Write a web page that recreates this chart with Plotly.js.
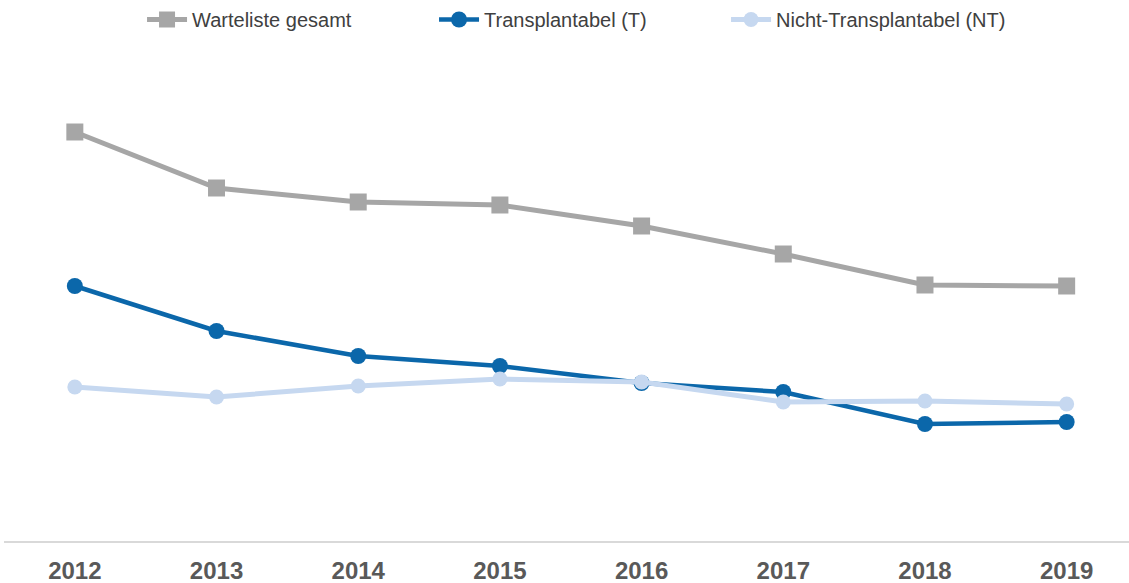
<!DOCTYPE html>
<html><head><meta charset="utf-8">
<script src="https://cdn.plot.ly/plotly-3.0.1.min.js"></script>
<style>html,body{margin:0;padding:0;background:#fff}#chart{width:1129px;height:583px}</style>
</head><body><div id="chart"></div>
<script>
var years = ['2012','2013','2014','2015','2016','2017','2018','2019'];
var gesamt = [409, 353, 339, 336, 315, 287, 256, 255];
var transplantabel = [255, 210, 185, 175, 158, 149, 117, 119];
var nichtTransplantabel = [154, 144, 155, 162, 159, 139, 140, 137];
var names = ['Warteliste gesamt', 'Transplantabel (T)', 'Nicht-Transplantabel (NT)'];

var traces = [
  {x: years, y: gesamt, name: names[0], type: 'scatter', mode: 'lines+markers',
   line: {color: '#a6a6a6', width: 5}, marker: {symbol: 'square', size: 17, color: '#a6a6a6'}},
  {x: years, y: transplantabel, name: names[1], type: 'scatter', mode: 'lines+markers',
   line: {color: '#0b67aa', width: 4.5}, marker: {symbol: 'circle', size: 16, color: '#0b67aa'}},
  {x: years, y: nichtTransplantabel, name: names[2], type: 'scatter', mode: 'lines+markers',
   line: {color: '#c6d8f0', width: 5}, marker: {symbol: 'circle', size: 15, color: '#c6d8f0'}}
];

var layout = {
  width: 1129, height: 583,
  margin: {l: 4, r: 0, t: 40, b: 42},
  paper_bgcolor: '#fff', plot_bgcolor: '#fff',
  showlegend: true,
  legend: {orientation: 'h', x: 0.1227, xanchor: 'left', y: 1, yanchor: 'top',
    yref: 'container', font: {family: 'Liberation Sans, Arial, sans-serif', size: 20, color: '#404040'},
    entrywidth: 237, entrywidthmode: 'pixels', itemwidth: 40},
  xaxis: {type: 'category', range: [-0.5, 7.44], showgrid: false, zeroline: false,
    showline: true, linecolor: '#d9d9d9', linewidth: 2, ticks: '',
    tickfont: {family: 'Liberation Sans, Arial, sans-serif', size: 24, color: '#595959', weight: 'bold'},
    ticklabelstandoff: 7},
  yaxis: {range: [0, 501], showgrid: false, zeroline: false, showticklabels: false, showline: false, ticks: ''}
};
Plotly.newPlot('chart', traces, layout, {displayModeBar: false, staticPlot: true});
</script></body></html>
